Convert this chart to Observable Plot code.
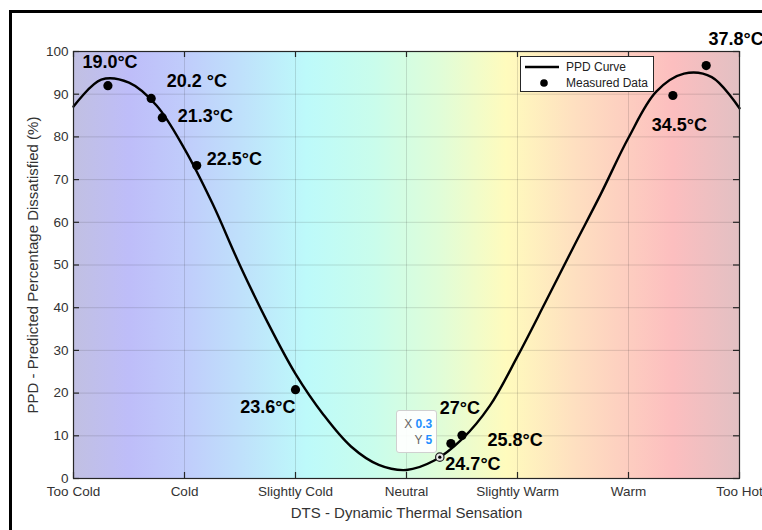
<!DOCTYPE html>
<html>
<head>
<meta charset="utf-8">
<script src="https://cdn.jsdelivr.net/npm/d3@7"></script>
<script src="https://cdn.jsdelivr.net/npm/@observablehq/plot@0.6"></script>
<style>
  html, body { margin: 0; padding: 0; background: #fff; }
  #wrap { position: relative; width: 762px; height: 530px; overflow: hidden; font-family: "Liberation Sans", Arial, Helvetica, sans-serif; }
  #frameLine { position: absolute; left: 9px; top: 10px; width: 900px; height: 700px; border-left: 3px solid #000; border-top: 3px solid #000; }
  #legend { position: absolute; background: #fff; border: 1px solid #262626; box-sizing: border-box; }
  #tip { position: absolute; background: rgba(255,255,255,0.92); border: 1px solid #d0d0d0; border-radius: 3px; box-sizing: border-box; font-size: 12px; line-height: 16px; color: #666; }
  #tip .v { color: #1f8fff; font-weight: bold; }
</style>
</head>
<body>
<div id="wrap"><div id="frameLine"></div></div>
<script>
// ---- Data ----
const xTicks = [-3, -2, -1, 0, 1, 2, 3];
const xTickLabels = ["Too Cold", "Cold", "Slightly Cold", "Neutral", "Slightly Warm", "Warm", "Too Hot"];
const yTicks = [0, 10, 20, 30, 40, 50, 60, 70, 80, 90, 100];

// PPD curve (every 0.25 DTS)
const curveDTS = [-3.0, -2.75, -2.5, -2.25, -2.0, -1.75, -1.5, -1.25, -1.0, -0.75, -0.5, -0.25, 0.0, 0.25, 0.5, 0.75, 1.0, 1.25, 1.5, 1.75, 2.0, 2.25, 2.5, 2.75, 3.0];
const curvePPD = [87.1, 93.4, 92.7, 87.3, 77.2, 64.5, 49.9, 36.5, 24.5, 15.0, 7.5, 3.2, 2.0, 4.2, 9.2, 17.0, 28.6, 41.2, 54.0, 66.6, 79.8, 90.6, 94.8, 94.0, 86.7];

// Measured data
const tempLabels = ["19.0°C", "20.2 °C", "21.3°C", "22.5°C", "23.6°C", "24.7°C", "25.8°C", "27°C", "34.5°C", "37.8°C"];
const measDTS = [-2.69, -2.30, -2.20, -1.89, -1.0, 0.3, 0.40, 0.50, 2.40, 2.70];
const measPPD = [92.0, 89.0, 84.5, 73.3, 20.8, 5, 8.2, 10.1, 89.7, 96.7];

// Annotation anchor positions (data units) for the temperature labels
const labelDTS = [-2.92, -2.16, -2.06, -1.80, -1.0, 0.35, 0.73, 0.30, 2.21, 2.72];
const labelPPD = [97.4, 93.0, 84.8, 74.7, 16.6, 3.3, 8.9, 16.4, 82.7, 102.8];
const labelAnchor = ["start", "start", "start", "start", "end", "start", "start", "start", "start", "start"];

// Data tip
const tipIndex = 5;

// Background gradient stops (DTS value -> colour)
const bgStops = [-3, -2.5, -2, -1.5, -0.9, -0.3, 0.3, 0.9, 1.5, 2.0, 2.4, 3.0];
const bgColors = ["#c1c0e2", "#bebdf9", "#c0ccfb", "#bfe0fb", "#bdfafa", "#c9fdec", "#e0fdd8", "#fffbbd", "#fee0c0", "#fdcdc0", "#fcbebf", "#e2c0c3"];

// ---- Build tables ----
const curve = curveDTS.map((x, i) => ({x, y: curvePPD[i]}));
const meas = measDTS.map((x, i) => ({x, y: measPPD[i], label: tempLabels[i], lx: labelDTS[i], ly: labelPPD[i], anchor: labelAnchor[i], i}));
const dotsPlain = meas.filter(d => d.i !== tipIndex);
const tipPt = meas[tipIndex];

const FONT = "Liberation Sans, Arial, Helvetica, sans-serif";
const AX = "#262626";
const TICK = 6;
const PW = 762 - 73 - 23, PH = 530 - 51 - 52;

const plot = Plot.plot({
  width: 762,
  height: 530,
  marginLeft: 73,
  marginRight: 23,
  marginTop: 51,
  marginBottom: 52,
  style: {fontFamily: FONT, background: "transparent", overflow: "visible"},
  x: {domain: [-3, 3]},
  y: {domain: [0, 100]},
  marks: [
    Plot.frame({fill: "url(#dtsGrad)", stroke: null}),
    Plot.gridX(xTicks, {stroke: AX, strokeOpacity: 0.15, strokeWidth: 1}),
    Plot.gridY(yTicks, {stroke: AX, strokeOpacity: 0.15, strokeWidth: 1}),
    Plot.line(curve, {x: "x", y: "y", curve: "catmull-rom", stroke: "#000", strokeWidth: 2.4}),
    Plot.dot(dotsPlain, {x: "x", y: "y", r: 4.6, fill: "#000", stroke: null}),
    Plot.dot([tipPt], {x: "x", y: "y", r: 4.2, fill: "#e8e8e8", stroke: "#222", strokeWidth: 1.2}),
    Plot.dot([tipPt], {x: "x", y: "y", r: 1.6, fill: "#000", stroke: null}),
    Plot.text(meas.filter(d => d.anchor === "start"), {x: "lx", y: "ly", text: "label", textAnchor: "start", fontSize: 18, fontWeight: "bold", fill: "#000", fontFamily: FONT}),
    Plot.text(meas.filter(d => d.anchor === "end"), {x: "lx", y: "ly", text: "label", textAnchor: "end", fontSize: 18, fontWeight: "bold", fill: "#000", fontFamily: FONT}),
    Plot.frame({stroke: AX, strokeWidth: 1.2}),
    // inward ticks on all four sides (y1 = top, y2 = bottom; x1 = left, x2 = right)
    Plot.ruleX(xTicks, {x: d => d, y1: () => 100, y2: () => 0, insetTop: PH - TICK, stroke: AX, strokeWidth: 1.2}),
    Plot.ruleX(xTicks, {x: d => d, y1: () => 100, y2: () => 0, insetBottom: PH - TICK, stroke: AX, strokeWidth: 1.2}),
    Plot.ruleY(yTicks, {y: d => d, x1: () => -3, x2: () => 3, insetRight: PW - TICK, stroke: AX, strokeWidth: 1.2}),
    Plot.ruleY(yTicks, {y: d => d, x1: () => -3, x2: () => 3, insetLeft: PW - TICK, stroke: AX, strokeWidth: 1.2}),
    Plot.axisX(xTicks, {tickSize: 0, tickPadding: 8, label: null, fontSize: 13.5, fill: "#333", tickFormat: d => xTickLabels[xTicks.indexOf(d)]}),
    Plot.axisY(yTicks, {tickSize: 0, tickPadding: 5, label: null, fontSize: 13.5, fill: "#333"}),
    Plot.text(["DTS - Dynamic Thermal Sensation"], {frameAnchor: "bottom", dy: 35, lineAnchor: "middle", textAnchor: "middle", fontSize: 15, fill: "#333", fontFamily: FONT}),
    Plot.text(["PPD - Predicted Percentage Dissatisfied (%)"], {frameAnchor: "left", dx: -40, rotate: -90, textAnchor: "middle", lineAnchor: "middle", fontSize: 15, fill: "#333", fontFamily: FONT})
  ]
});

// gradient definition
const stopsHtml = bgStops.map((s, i) => `<stop offset="${(s + 3) / 6}" stop-color="${bgColors[i]}"/>`).join("");
plot.insertAdjacentHTML("afterbegin", `<defs><linearGradient id="dtsGrad" x1="0" x2="1" y1="0" y2="0">${stopsHtml}</linearGradient></defs>`);
plot.style.position = "absolute";
plot.style.left = "0px";
plot.style.top = "0px";

const wrap = document.getElementById("wrap");
wrap.appendChild(plot);

// Legend (top-right, inside plot area)
const legend = document.createElement("div");
legend.id = "legend";
legend.style.left = "520px";
legend.style.top = "56px";
legend.style.width = "134px";
legend.style.height = "36px";
legend.innerHTML = `<svg width="132" height="34" style="display:block">
  <line x1="4" x2="38" y1="10" y2="10" stroke="#000" stroke-width="2.4"/>
  <circle cx="23" cy="26" r="3.8" fill="#000"/>
  <text x="45" y="10" dy="0.35em" font-size="12" fill="#222" font-family="${FONT}">PPD Curve</text>
  <text x="45" y="26" dy="0.35em" font-size="12" fill="#222" font-family="${FONT}">Measured Data</text>
</svg>`;
wrap.appendChild(legend);

// Data tip box anchored to the tip point through the scales
const sx = plot.scale("x"), sy = plot.scale("y");
const px = sx.apply(tipPt.x), py = sy.apply(tipPt.y);
const tip = document.createElement("div");
tip.id = "tip";
tip.style.left = (px - 43) + "px";
tip.style.top = (py - 47) + "px";
tip.style.width = "41px";
tip.style.height = "43px";
tip.innerHTML = `<div style="position:absolute; right:4px; top:5px; text-align:right; white-space:nowrap">X <span class="v">${tipPt.x}</span><br>Y <span class="v">${tipPt.y}</span></div>`;
wrap.appendChild(tip);
</script>
</body>
</html>
